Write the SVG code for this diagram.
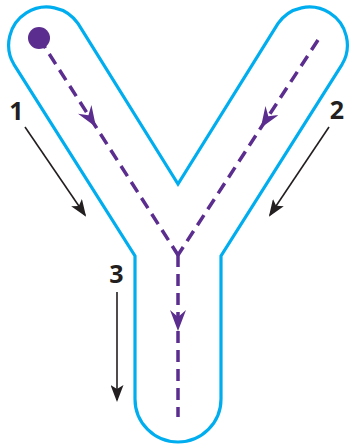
<svg xmlns="http://www.w3.org/2000/svg" width="351" height="447" viewBox="0 0 351 447">
  <style>
    .outline { fill: none; stroke: #00AEEF; stroke-width: 3.2; stroke-linejoin: miter; }
    .path { fill: none; stroke: #5B2D8E; stroke-width: 3.5; stroke-dasharray: 12 7; marker-mid: url(#purpleHead); }
    .guide { fill: none; stroke: #231F20; stroke-width: 1.6; marker-end: url(#blackHead); }
    .num { font-family: "Open Sans", "Liberation Sans", sans-serif; font-weight: 700; font-size: 25px; fill: #231F20; text-anchor: middle; }
  </style>
  <defs>
    <marker id="purpleHead" viewBox="0 0 21 16" refX="21" refY="8" markerWidth="21" markerHeight="16" markerUnits="userSpaceOnUse" orient="auto">
      <path d="M0,0 L21,8 L0,16 L7,8 Z" fill="#5B2D8E"/>
    </marker>
    <marker id="blackHead" viewBox="0 0 17 13" refX="15" refY="6.5" markerWidth="17" markerHeight="13" markerUnits="userSpaceOnUse" orient="auto">
      <path d="M0,0 L17,6.5 L0,13 L4,6.5 Z" fill="#231F20"/>
    </marker>
  </defs>

  <g id="letter-y">
    <path class="outline" d="M135,256 L135,399 A43,43 0 0 0 221,399 L221,256 L342.1,64.3 A38,38 0 0 0 277.9,23.7 L178,184 L78.1,23.7 A38,38 0 0 0 13.9,64.3 Z"/>
  </g>

  <g id="start-dot">
    <circle cx="39" cy="38" r="11" fill="#5B2D8E"/>
  </g>

  <g id="connectors">
    <path class="path" d="M39,38 L96,127 L178,255"/>
    <path class="path" d="M318,40 L260.7,128 L178,255"/>
    <path class="path" d="M178,255 L178,331 L178,417"/>
    <line class="guide" x1="25" y1="127" x2="85" y2="215"/>
    <line class="guide" x1="329" y1="127" x2="270" y2="215"/>
    <line class="guide" x1="117" y1="292" x2="117" y2="400"/>
  </g>

  <g id="labels">
    <text class="num" x="16.5" y="120">1</text>
    <text class="num" x="337" y="119">2</text>
    <text class="num" x="116.5" y="283">3</text>
  </g>
</svg>
